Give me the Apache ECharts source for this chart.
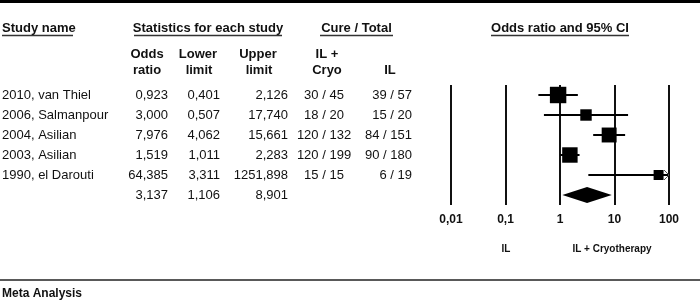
<!DOCTYPE html>
<html>
<head>
<meta charset="utf-8">
<script src="https://cdn.jsdelivr.net/npm/echarts@6/dist/echarts.min.js"></script>
<style>
html,body{margin:0;padding:0;background:#fff;}
#c{width:700px;height:302px;}
</style>
</head>
<body>
<div id="c"></div>
<script>
// ---- data ----
const studies = ['2010, van Thiel', '2006, Salmanpour', '2004, Asilian', '2003, Asilian', '1990, el Darouti'];
const oddsRatio = [0.923, 3.000, 7.976, 1.519, 64.385];
const lowerLimit = [0.401, 0.507, 4.062, 1.011, 3.311];
const upperLimit = [2.126, 17.740, 15.661, 2.283, 1251.898];
const cureCryo = ['30 / 45', '18 / 20', '120 / 132', '120 / 199', '15 / 15'];
const cureIL = ['39 / 57', '15 / 20', '84 / 151', '90 / 180', '6 / 19'];
const relWeight = [28.1, 13.6, 23.2, 24.8, 10.3];
const summaryValues = [3.137, 1.106, 8.901];
const tickValues = [0.01, 0.1, 1, 10, 100];
const tickLabels = ['0,01', '0,1', '1', '10', '100'];
const rowNames = ['0', '1', '2', '3', '4', '5'];

// ---- helpers ----
const FONT = '"Liberation Sans", Arial, sans-serif';
const INK = '#111';
const fmt = v => v.toFixed(3).replace('.', ',');
const xMax = tickValues[tickValues.length - 1];

const forestData = studies.map((s, i) => [oddsRatio[i], i, lowerLimit[i], upperLimit[i], relWeight[i]]);
const summaryRow = studies.length;
const tableData = studies.map((s, i) => [1, i]).concat([[1, summaryRow]]);

const chart = echarts.init(document.getElementById('c'), null, {renderer: 'canvas'});

function tableRender(params, api) {
  const i = params.dataIndex;
  const y = api.coord([1, api.value(1)])[1];
  const t = (text, x, align) => ({
    type: 'text',
    style: {text: text, x: x, y: y, fill: INK, font: '13px ' + FONT, align: align, verticalAlign: 'middle'}
  });
  if (i < studies.length) {
    return {type: 'group', children: [
      t(studies[i], 2, 'left'),
      t(fmt(oddsRatio[i]), 168, 'right'),
      t(fmt(lowerLimit[i]), 220, 'right'),
      t(fmt(upperLimit[i]), 288, 'right'),
      t(cureCryo[i], 324, 'center'),
      t(cureIL[i], 412, 'right')
    ]};
  }
  return {type: 'group', children: [
    t(fmt(summaryValues[0]), 168, 'right'),
    t(fmt(summaryValues[1]), 220, 'right'),
    t(fmt(summaryValues[2]), 288, 'right')
  ]};
}

function forestRender(params, api) {
  const row = api.value(1);
  const or = api.value(0), lo = api.value(2), hi = Math.min(api.value(3), xMax);
  const clipped = api.value(3) > xMax;
  const pc = api.coord([or, row]);
  const pl = api.coord([lo, row]);
  const ph = api.coord([hi, row]);
  const side = Math.sqrt(api.value(4)) * 3.1;
  const children = [
    {type: 'line', shape: {x1: pl[0], y1: pc[1], x2: ph[0], y2: pc[1]}, style: {stroke: '#000', lineWidth: 2}},
    {type: 'rect', shape: {x: pc[0] - side / 2, y: pc[1] - side / 2, width: side, height: side}, style: {fill: '#000'}}
  ];
  if (clipped) {
    children.push({type: 'polyline', shape: {points: [[ph[0] - 5, pc[1] - 5], [ph[0], pc[1]], [ph[0] - 5, pc[1] + 5]]},
      style: {stroke: '#555', lineWidth: 1, fill: null}});
  }
  return {type: 'group', children: children};
}

function diamondRender(params, api) {
  const row = api.value(1);
  const pc = api.coord([api.value(0), row]);
  const pl = api.coord([api.value(2), row]);
  const ph = api.coord([api.value(3), row]);
  const h = 8;
  return {type: 'polygon', shape: {points: [[pl[0], pc[1]], [pc[0], pc[1] - h], [ph[0], pc[1]], [pc[0], pc[1] + h]]},
    style: {fill: '#000'}};
}

const hdr = (text, x, y, align, size) => ({
  type: 'text', z: 10,
  style: {text: text, x: x, y: y, fill: INK, font: 'bold ' + (size || 13) + 'px ' + FONT, align: align || 'center', verticalAlign: 'middle'}
});
const uline = (x1, x2, y) => ({type: 'line', z: 10, shape: {x1: x1, y1: y, x2: x2, y2: y}, style: {stroke: '#333', lineWidth: 1.5}});

chart.setOption({
  animation: false,
  backgroundColor: '#fff',
  grid: {left: 451, right: 31, top: 85, bottom: 97, containLabel: false},
  xAxis: {
    type: 'log', logBase: 10, min: tickValues[0], max: xMax,
    axisLine: {show: false}, axisTick: {show: false},
    splitLine: {show: true, lineStyle: {color: '#111', width: 2}},
    axisLabel: {
      margin: 9, color: INK, fontWeight: 'bold', fontSize: 12, fontFamily: FONT,
      formatter: v => tickLabels[Math.round(Math.log10(v)) + 2]
    }
  },
  yAxis: {type: 'category', data: rowNames, inverse: true, show: false},
  series: [
    {type: 'custom', renderItem: tableRender, data: tableData, encode: {x: 0, y: 1}, clip: false, silent: true},
    {type: 'custom', renderItem: forestRender, data: forestData, encode: {x: 0, y: 1}, clip: false, silent: true, z: 5},
    {type: 'custom', renderItem: diamondRender, data: [[summaryValues[0], summaryRow, summaryValues[1], summaryValues[2]]],
      encode: {x: 0, y: 1}, clip: false, silent: true, z: 5}
  ],
  graphic: [
    {type: 'rect', shape: {x: 0, y: 0, width: 700, height: 3}, style: {fill: '#000'}},
    hdr('Study name', 2, 28.5, 'left'), uline(2, 73, 35.5),
    hdr('Statistics for each study', 208, 28.5), uline(134, 282, 35.5),
    hdr('Cure / Total', 356.5, 28.5), uline(320, 393, 35.5),
    hdr('Odds ratio and 95% CI', 560, 28.5), uline(491, 629, 35.5),
    hdr('Odds', 147, 54), hdr('ratio', 147, 70),
    hdr('Lower', 198, 54), hdr('limit', 199, 70),
    hdr('Upper', 258, 54), hdr('limit', 259, 70),
    hdr('IL +', 327, 54), hdr('Cryo', 327, 70),
    hdr('IL', 390, 70),
    hdr('IL', 506, 249, 'center', 10),
    hdr('IL + Cryotherapy', 612, 249, 'center', 10),
    {type: 'line', shape: {x1: 0, y1: 280, x2: 700, y2: 280}, style: {stroke: '#222', lineWidth: 1.5}},
    hdr('Meta Analysis', 2, 294, 'left', 12)
  ]
});
</script>
</body>
</html>
